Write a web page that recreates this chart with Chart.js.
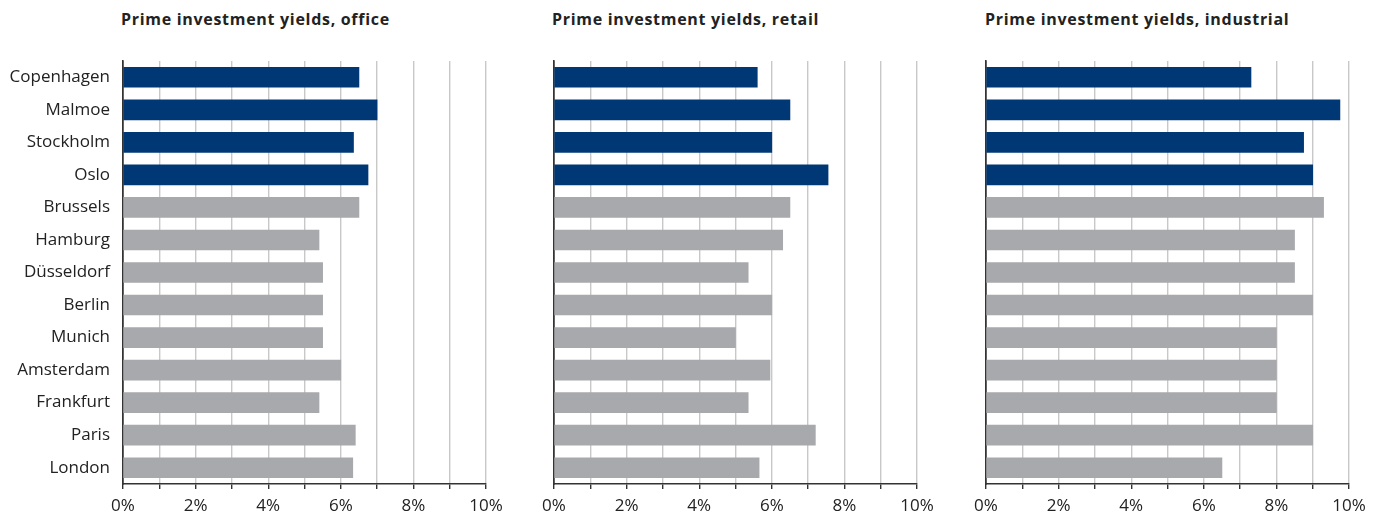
<!DOCTYPE html>
<html>
<head>
  <meta charset="utf-8">
  <title>Prime investment yields</title>
  <script src="https://cdn.jsdelivr.net/npm/chart.js"></script>
  <style>
    body { margin: 0; background: #fff; }
    .panel { position: absolute; top: 0; width: 510px; height: 519px; }
    .title { position: absolute; top: 8px; font: bold 16px 'Open Sans', sans-serif; letter-spacing: 0.7px; color: #222; white-space: nowrap; line-height: 22px; }
  </style>
</head>
<body>
  <div class="title" style="left:121px">Prime investment yields, office</div>
  <div class="title" style="left:552px">Prime investment yields, retail</div>
  <div class="title" style="left:985px">Prime investment yields, industrial</div>
  <div class="panel" style="left:0px"><canvas id="office"></canvas></div>
  <div class="panel" style="left:431px"><canvas id="retail"></canvas></div>
  <div class="panel" style="left:863px"><canvas id="industrial"></canvas></div>
  <script>
    // categories and yields (%)
    const cities = ['Copenhagen', 'Malmoe', 'Stockholm', 'Oslo', 'Brussels', 'Hamburg',
      'Düsseldorf', 'Berlin', 'Munich', 'Amsterdam', 'Frankfurt', 'Paris', 'London'];
    const office = [6.5, 7.0, 6.35, 6.75, 6.5, 5.4, 5.5, 5.5, 5.5, 6.0, 5.4, 6.4, 6.33];
    const retail = [5.6, 6.5, 6.0, 7.55, 6.5, 6.3, 5.35, 6.0, 5.0, 5.95, 5.35, 7.2, 5.65];
    const industrial = [7.3, 9.75, 8.75, 9.0, 9.3, 8.5, 8.5, 9.0, 8.0, 8.0, 8.0, 9.0, 6.5];
    const xLabelled = [0, 2, 4, 6, 8, 10];
    const nordicCount = 4;

    const NAVY = '#003876';
    const GRAY = '#a8a9ad';
    const TEXT = '#222';
    const FONT = "'Open Sans', sans-serif";

    function makeChart(id, values, showLabels) {
      new Chart(document.getElementById(id), {
        type: 'bar',
        data: {
          labels: cities,
          datasets: [{
            data: values,
            backgroundColor: ctx => ctx.dataIndex < nordicCount ? NAVY : GRAY,
            barThickness: 20
          }]
        },
        options: {
          indexAxis: 'y',
          responsive: true,
          maintainAspectRatio: false,
          animation: false,
          layout: { padding: { top: 61, right: 24, left: 0, bottom: 0 } },
          plugins: { legend: { display: false }, tooltip: { enabled: false } },
          scales: {
            x: {
              min: 0,
              max: 10,
              afterFit: s => { s.height = 35; },
              ticks: {
                stepSize: 1,
                autoSkip: false,
                maxRotation: 0,
                padding: 7,
                color: TEXT,
                font: { family: FONT, size: 17 },
                callback: v => xLabelled.includes(v) ? v + '%' : ''
              },
              grid: {
                color: ctx => ctx.tick && ctx.tick.value === 0 ? '#333' : '#c8c8c8',
                lineWidth: 1.4,
                tickColor: '#333',
                tickLength: 5
              },
              border: { color: '#333', width: 1.6 }
            },
            y: {
              afterFit: s => { s.width = 123; },
              ticks: {
                display: showLabels,
                padding: 13,
                color: TEXT,
                font: { family: FONT, size: 17 }
              },
              grid: { display: false, drawTicks: false },
              border: { color: '#333', width: 1.6 }
            }
          }
        }
      });
    }

    makeChart('office', office, true);
    makeChart('retail', retail, false);
    makeChart('industrial', industrial, false);
  </script>
</body>
</html>
